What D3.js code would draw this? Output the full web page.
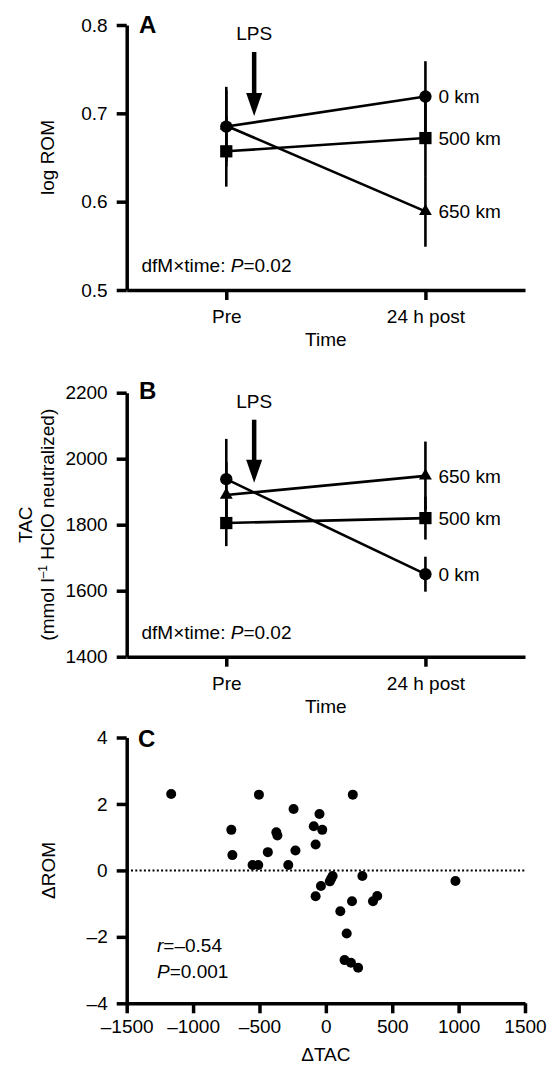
<!DOCTYPE html>
<html><head><meta charset="utf-8">
<script src="https://cdn.jsdelivr.net/npm/d3@7"></script>
<style>body{margin:0;background:#fff} text{font-family:"Liberation Sans",Arial,sans-serif;fill:#000}</style>
</head><body><svg id="c" width="554" height="1066"></svg>
<script>
// ---- data ----
const timePoints = ["Pre", "24 h post"];
const seriesNames = ["0 km", "500 km", "650 km"];
const seriesShapes = ["circle", "square", "triangle"];
const romMean = [[0.685, 0.719], [0.657, 0.672], [0.686, 0.589]];
const romErr  = [[0.045, 0.040], [0.040, 0.043], [0.040, 0.040]];
const tacMean = [[1938, 1650], [1805, 1820], [1890, 1948]];
const tacErr  = [[122, 53], [70, 65], [100, 104]];
const romTicks = [0.5, 0.6, 0.7, 0.8];
const romTickLabels = ["0.5", "0.6", "0.7", "0.8"];
const tacTicks = [1400, 1600, 1800, 2000, 2200];
const dTAC = [-1165, -504, 203, -243, -48, -712, -91, -27, -373, -365, -77, -704, -437, -229, -552, -509, -283, 51, 40, 30, 275, -37, 976, -77, 197, 355, 387, 109, 157, 141, 189, 243];
const dROM = [2.30, 2.28, 2.28, 1.85, 1.70, 1.22, 1.33, 1.22, 1.15, 1.05, 0.78, 0.46, 0.55, 0.60, 0.16, 0.16, 0.16, -0.17, -0.25, -0.33, -0.17, -0.47, -0.32, -0.78, -0.93, -0.93, -0.77, -1.23, -1.90, -2.70, -2.78, -2.93];
const dTacTicks = [-1500, -1000, -500, 0, 500, 1000, 1500];
const dRomTicks = [-4, -2, 0, 2, 4];

const svg = d3.select("#c");
const FS = 19;
const AX = 126.7, XEND = 525;
const fmtMinus = v => String(v).replace("-", "\u2013");

function styleAxis(g) {
  g.select(".domain").attr("stroke", "#000").attr("stroke-width", 3.5);
  g.selectAll(".tick line").attr("stroke", "#000").attr("stroke-width", 3.5);
  g.selectAll(".tick text").attr("font-size", FS).attr("font-family", '"Liberation Sans",Arial,sans-serif');
}

function symbolPath(shape) {
  if (shape === "circle") return d3.symbol(d3.symbolCircle, 120)();
  if (shape === "square") return d3.symbol(d3.symbolSquare, 150)();
  return d3.symbol(d3.symbolTriangle, 72)();
}

function linePanel(o) {
  const g = svg.append("g");
  const x = d3.scalePoint().domain(timePoints).range([AX, XEND]).padding(0.5);
  const y = d3.scaleLinear().domain(o.domain).range([o.bottom, o.top]);

  const ya = g.append("g").attr("transform", `translate(${AX},0)`)
    .call(d3.axisLeft(y).tickValues(o.ticks).tickFormat(o.fmt).tickSize(10).tickSizeOuter(0).tickPadding(9));
  styleAxis(ya);
  const xa = g.append("g").attr("transform", `translate(0,${o.bottom})`)
    .call(d3.axisBottom(x).tickSize(10).tickSizeOuter(0));
  styleAxis(xa);
  xa.selectAll(".tick text").attr("y", 33).attr("dy", 0);

  g.append("text").attr("x", (x(timePoints[0]) + x(timePoints[1])) / 2).attr("y", o.bottom + 56)
    .attr("text-anchor", "middle").attr("font-size", FS).text("Time");

  // error bars
  o.mean.forEach((m, i) => {
    m.forEach((v, j) => {
      g.append("line").attr("x1", x(timePoints[j])).attr("x2", x(timePoints[j]))
        .attr("y1", y(v - o.err[i][j])).attr("y2", y(v + o.err[i][j]))
        .attr("stroke", "#000").attr("stroke-width", 2.6);
    });
  });
  // lines
  const line = d3.line().x((v, j) => x(timePoints[j])).y(v => y(v));
  o.mean.forEach(m => {
    g.append("path").attr("d", line(m)).attr("fill", "none").attr("stroke", "#000").attr("stroke-width", 2.6);
  });
  // markers + series labels
  o.mean.forEach((m, i) => {
    m.forEach((v, j) => {
      g.append("path").attr("d", symbolPath(seriesShapes[i]))
        .attr("transform", `translate(${x(timePoints[j])},${y(v)})`).attr("fill", "#000");
    });
    g.append("text").attr("x", x(timePoints[1]) + 13).attr("y", y(m[1])).attr("dy", "0.36em")
      .attr("font-size", FS).text(seriesNames[i]);
  });

  // LPS arrow
  const ax = x(timePoints[0]) + (x(timePoints[1]) - x(timePoints[0])) * 0.14;
  g.append("text").attr("x", ax).attr("y", o.top + o.lpsDy).attr("text-anchor", "middle")
    .attr("font-size", FS).text("LPS");
  const a0 = o.top + o.arrowTop, a1 = o.top + o.arrowTip;
  g.append("line").attr("x1", ax).attr("x2", ax).attr("y1", a0).attr("y2", a1 - 18)
    .attr("stroke", "#000").attr("stroke-width", 4.5);
  g.append("path").attr("d", `M${ax - 8},${a1 - 23}L${ax + 8},${a1 - 23}L${ax},${a1}Z`).attr("fill", "#000");

  // panel letter
  g.append("text").attr("x", 139).attr("y", o.letterY).attr("font-size", 24).attr("font-weight", "bold").text(o.letter);

  // stat
  const t = g.append("text").attr("x", 141.5).attr("y", o.bottom - 18).attr("font-size", FS);
  t.append("tspan").text("dfM\u00D7time: ");
  t.append("tspan").attr("font-style", "italic").text("P");
  t.append("tspan").text("=0.02");

  return {g, x, y};
}

// Panel A
const A = linePanel({
  domain: [0.5, 0.8], top: 25, bottom: 290, ticks: romTicks,
  fmt: (d, i) => romTickLabels[i], mean: romMean, err: romErr,
  lpsDy: 15, arrowTop: 27, arrowTip: 91, letter: "A", letterY: 33
});
A.g.append("text").attr("transform", `translate(54,${(25 + 290) / 2}) rotate(-90)`)
  .attr("text-anchor", "middle").attr("font-size", FS).text("log ROM");

// Panel B
const B = linePanel({
  domain: [1400, 2200], top: 392.7, bottom: 656.7, ticks: tacTicks,
  fmt: d3.format("d"), mean: tacMean, err: tacErr,
  lpsDy: 15, arrowTop: 27, arrowTip: 90, letter: "B", letterY: 399
});
const tl = B.g.append("g").attr("transform", `translate(0,${(392.7 + 656.7) / 2}) rotate(-90)`);
tl.append("text").attr("x", 0).attr("y", 32).attr("text-anchor", "middle").attr("font-size", FS).text("TAC");
const t2 = tl.append("text").attr("x", 0).attr("y", 54).attr("text-anchor", "middle").attr("font-size", FS);
t2.append("tspan").text("(mmol l");
t2.append("tspan").attr("font-size", 12).attr("dy", -7).text("\u20131");
t2.append("tspan").attr("dy", 7).text(" HClO neutralized)");

// Panel C
{
  const g = svg.append("g");
  const x = d3.scaleLinear().domain([-1500, 1500]).range([AX, XEND]);
  const y = d3.scaleLinear().domain([-4, 4]).range([1003.3, 737.5]);
  const ya = g.append("g").attr("transform", `translate(${AX},0)`)
    .call(d3.axisLeft(y).tickValues(dRomTicks).tickFormat(fmtMinus).tickSize(10).tickSizeOuter(0).tickPadding(9));
  styleAxis(ya);
  const xa = g.append("g").attr("transform", "translate(0,1003.3)")
    .call(d3.axisBottom(x).tickValues(dTacTicks).tickFormat(fmtMinus).tickSize(10).tickSizeOuter(0));
  styleAxis(xa);
  xa.selectAll(".tick text").attr("y", 30).attr("dy", 0);

  g.append("line").attr("x1", x(-1500)).attr("x2", x(1500)).attr("y1", y(0)).attr("y2", y(0))
    .attr("stroke", "#000").attr("stroke-width", 2).attr("stroke-dasharray", "2,2.3");

  g.selectAll("circle.pt").data(dTAC).join("circle").attr("class", "pt")
    .attr("cx", d => x(d)).attr("cy", (d, i) => y(dROM[i])).attr("r", 5).attr("fill", "#000");

  g.append("text").attr("x", 138).attr("y", 747).attr("font-size", 24).attr("font-weight", "bold").text("C");
  g.append("text").attr("transform", `translate(55,${y(0)}) rotate(-90)`).attr("text-anchor", "middle")
    .attr("font-size", FS).text("\u0394ROM");
  g.append("text").attr("x", x(0)).attr("y", 1061).attr("text-anchor", "middle").attr("font-size", FS).text("\u0394TAC");

  const r1 = g.append("text").attr("x", 157).attr("y", 952).attr("font-size", FS);
  r1.append("tspan").attr("font-style", "italic").text("r");
  r1.append("tspan").text("=\u20130.54");
  const r2 = g.append("text").attr("x", 157).attr("y", 978).attr("font-size", FS);
  r2.append("tspan").attr("font-style", "italic").text("P");
  r2.append("tspan").text("=0.001");
}
</script></body></html>
